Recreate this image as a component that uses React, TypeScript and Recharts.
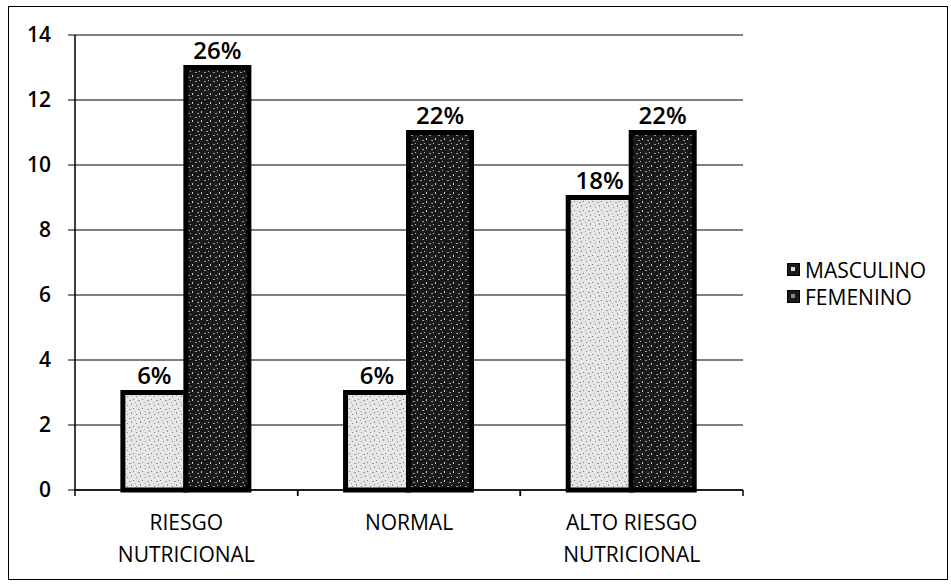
import React from 'react';
import { BarChart, Bar, XAxis, YAxis, CartesianGrid, LabelList, Legend } from 'recharts';

const categories = ['RIESGO\nNUTRICIONAL', 'NORMAL', 'ALTO RIESGO\nNUTRICIONAL'];
const masculino = [3, 3, 9];
const femenino = [13, 11, 11];
const masculinoPct = ['6%', '6%', '18%'];
const femeninoPct = ['26%', '22%', '22%'];
const yTicks = [0, 2, 4, 6, 8, 10, 12, 14];

const data = categories.map((c, i) => ({
  name: c,
  MASCULINO: masculino[i],
  FEMENINO: femenino[i],
  mPct: masculinoPct[i],
  fPct: femeninoPct[i],
}));

const FONT = '"Open Sans", sans-serif';
const WEIGHT = 600;
const CHART_W = 938;
const CHART_H = 572;
const MARGIN = { top: 28, right: 204, bottom: 29, left: 0 };
const Y_W = 66;
const PLOT_W = CHART_W - MARGIN.right - MARGIN.left - Y_W;
const HALF_BAND = PLOT_W / categories.length / 2;

const CatTick = (props: any) => {
  const { x, y, payload } = props;
  const lines = String(payload.value).split('\n');
  return (
    <g>
      <line x1={x - HALF_BAND} x2={x - HALF_BAND} y1={y - 8} y2={y - 2} stroke="#000" strokeWidth={1.5} />
      <line x1={x + HALF_BAND} x2={x + HALF_BAND} y1={y - 8} y2={y - 2} stroke="#000" strokeWidth={1.5} />
      {lines.map((l, i) => (
        <text key={i} x={x} y={y + 32 + i * 32} textAnchor="middle" fontFamily={FONT} fontWeight={500} fontSize={21} fill="#000">
          {l}
        </text>
      ))}
    </g>
  );
};

const LegendContent = () => (
  <div style={{ fontFamily: FONT, fontWeight: 500, fontSize: 21, color: '#000' }}>
    {[
      { name: 'MASCULINO', inner: '#ddd' },
      { name: 'FEMENINO', inner: '#888' },
    ].map((it) => (
      <div key={it.name} style={{ display: 'flex', alignItems: 'center', height: 27 }}>
        <svg width={13} height={13} style={{ marginRight: 5 }}>
          <rect x={0.5} y={0.5} width={12} height={12} fill="#1a1a1a" stroke="#000" />
          <rect x={4} y={4} width={4} height={4} fill={it.inner} />
        </svg>
        <span>{it.name}</span>
      </div>
    ))}
  </div>
);

export default function App() {
  return (
    <div
      style={{
        position: 'absolute',
        left: 8,
        top: 6,
        width: CHART_W + 2,
        height: CHART_H + 2,
        border: '1px solid #000',
        boxSizing: 'border-box',
        background: '#fff',
      }}
    >
      <BarChart width={CHART_W} height={CHART_H} data={data} margin={MARGIN} barCategoryGap="21.5%" barGap={0}>
        <defs>
          <pattern id="mascPat" width={9} height={9} patternUnits="userSpaceOnUse">
            <rect width={9} height={9} fill="#e6e6e6" />
            <rect x={1} y={2} width={1} height={1} fill="#888" />
            <rect x={5} y={0} width={1} height={2} fill="#999" />
            <rect x={7} y={5} width={1} height={1} fill="#777" />
            <rect x={3} y={6} width={2} height={1} fill="#999" />
            <rect x={0} y={8} width={1} height={1} fill="#aaa" />
          </pattern>
          <pattern id="femPat" width={9} height={9} patternUnits="userSpaceOnUse">
            <rect width={9} height={9} fill="#1a1a1a" />
            <rect x={1} y={1} width={1} height={1} fill="#bbb" />
            <rect x={6} y={2} width={2} height={1} fill="#999" />
            <rect x={3} y={5} width={1} height={2} fill="#ccc" />
            <rect x={8} y={7} width={1} height={1} fill="#888" />
            <rect x={0} y={7} width={1} height={1} fill="#aaa" />
          </pattern>
        </defs>
        <CartesianGrid vertical={false} stroke="#000" strokeWidth={1.2} />
        <XAxis
          dataKey="name"
          height={60}
          axisLine={{ stroke: '#000', strokeWidth: 1.5 }}
          tickLine={false}
          tick={<CatTick />}
          interval={0}
        />
        <YAxis
          width={Y_W}
          domain={[0, 14]}
          ticks={yTicks}
          interval={0}
          axisLine={{ stroke: '#000', strokeWidth: 1.5 }}
          tickLine={{ stroke: '#000' }}
          tickSize={7}
          tickMargin={17}
          tick={{ fontFamily: FONT, fontWeight: WEIGHT, fontSize: 21, fill: '#000' }}
        />
        <Legend
          layout="vertical"
          align="center"
          verticalAlign="middle"
          content={<LegendContent />}
          wrapperStyle={{ left: 778, top: 249, width: 160 }}
        />
        <Bar dataKey="MASCULINO" fill="url(#mascPat)" stroke="#000" strokeWidth={5} isAnimationActive={false}>
          <LabelList dataKey="mPct" position="top" offset={9} style={{ fontFamily: FONT, fontWeight: WEIGHT, fontSize: 24, fill: '#000' }} />
        </Bar>
        <Bar dataKey="FEMENINO" fill="url(#femPat)" stroke="#000" strokeWidth={5} isAnimationActive={false}>
          <LabelList dataKey="fPct" position="top" offset={9} style={{ fontFamily: FONT, fontWeight: WEIGHT, fontSize: 24, fill: '#000' }} />
        </Bar>
      </BarChart>
    </div>
  );
}
